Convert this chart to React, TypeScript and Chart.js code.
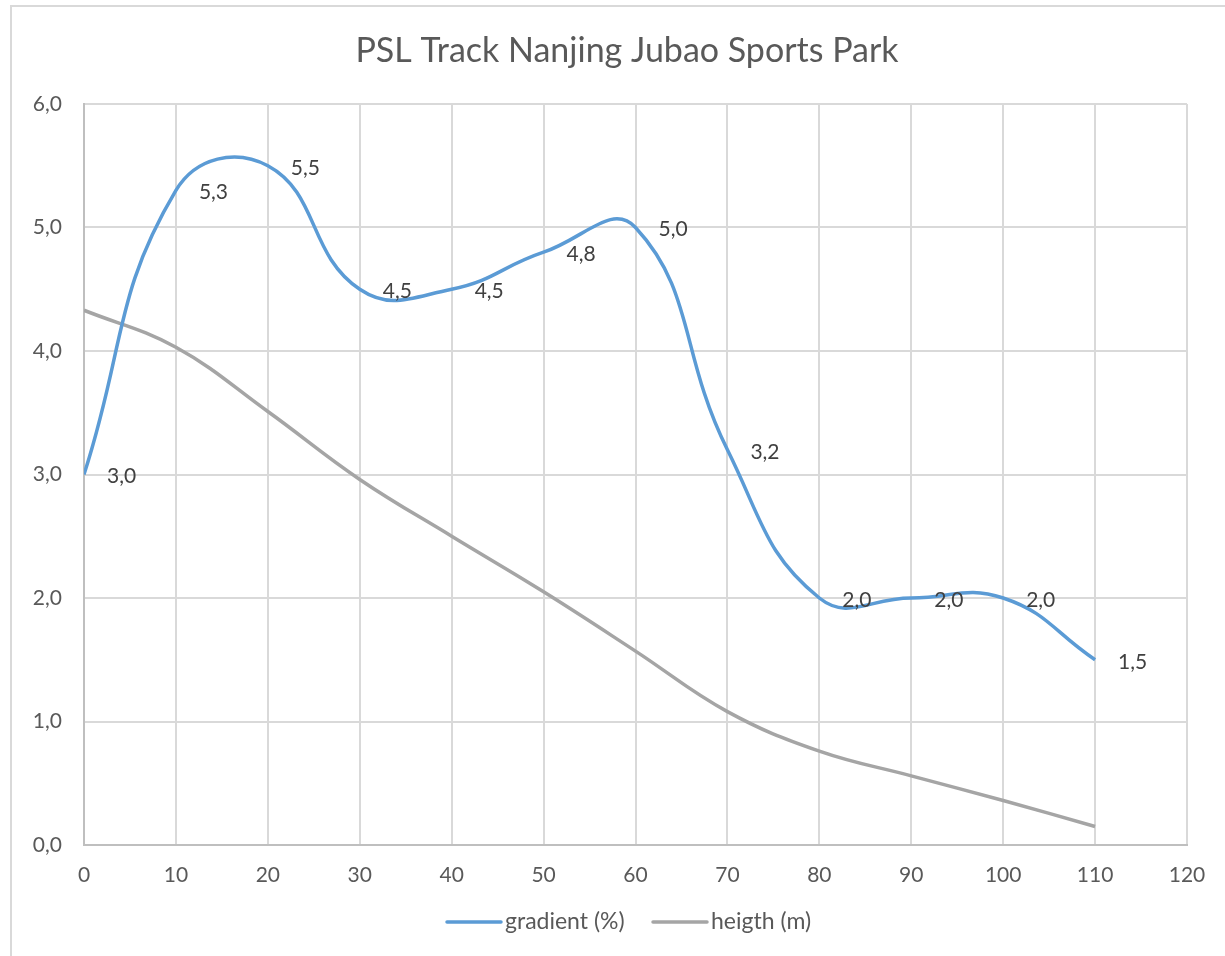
import React, { useEffect, useRef } from "react";
import { Chart, registerables } from "chart.js";

Chart.register(...registerables);

const chartTitle = "PSL Track Nanjing Jubao Sports Park";
const seriesNames = ["gradient (%)", "heigth (m)"];
const seriesColors = ["#5b9bd5", "#a5a5a5"];
const distance = [0, 10, 20, 30, 40, 50, 60, 70, 80, 90, 100, 110];
const gradientValues = [3.0, 5.3, 5.5, 4.5, 4.5, 4.8, 5.0, 3.2, 2.0, 2.0, 2.0, 1.5];
const heightValues = [4.33, 4.03, 3.51, 2.96, 2.5, 2.05, 1.57, 1.08, 0.76, 0.56, 0.36, 0.15];
const xRange = [0, 120];
const yRange = [0, 6];

const FONT = "Lato, 'Open Sans', sans-serif";
const fmt = (v: number) => v.toFixed(1).replace(".", ",");

const decorPlugin = {
  id: "decor",
  beforeDraw(chart: any) {
    const ctx = chart.ctx;
    ctx.save();
    ctx.strokeStyle = "#d9d9d9";
    ctx.lineWidth = 2;
    ctx.strokeRect(11, 6, 1400, 1200);
    ctx.restore();
  },
  afterDatasetsDraw(chart: any) {
    const ctx = chart.ctx;
    ctx.save();
    // data labels for gradient
    const meta = chart.getDatasetMeta(0);
    ctx.font = `21px ${FONT}`;
    ctx.fillStyle = "#404040";
    ctx.textAlign = "left";
    ctx.textBaseline = "middle";
    meta.data.forEach((pt: any, i: number) => {
      ctx.fillText(fmt(gradientValues[i]), pt.x + 23, pt.y + 2);
    });
    // title
    ctx.font = `34px ${FONT}`;
    ctx.fillStyle = "#595959";
    ctx.textAlign = "center";
    ctx.fillText(chartTitle, 627, 51);
    // legend
    ctx.font = `23px ${FONT}`;
    ctx.textAlign = "left";
    const items = [
      { x0: 447, x1: 501, tx: 505 },
      { x0: 653, x1: 707, tx: 711 },
    ];
    items.forEach((it, i) => {
      ctx.strokeStyle = seriesColors[i];
      ctx.lineWidth = 3.5;
      ctx.lineCap = "round";
      ctx.beginPath();
      ctx.moveTo(it.x0, 922);
      ctx.lineTo(it.x1, 922);
      ctx.stroke();
      ctx.fillStyle = "#595959";
      ctx.fillText(seriesNames[i], it.tx, 922);
    });
    ctx.restore();
  },
};

export default function App() {
  const ref = useRef<HTMLCanvasElement>(null);
  useEffect(() => {
    if (!ref.current) return;
    const chart = new Chart(ref.current, {
      type: "line",
      data: {
        datasets: [
          {
            label: seriesNames[0],
            data: distance.map((x, i) => ({ x, y: gradientValues[i] })),
            borderColor: seriesColors[0],
            borderWidth: 3.5,
            pointRadius: 0,
            tension: 0.45,
            fill: false,
          },
          {
            label: seriesNames[1],
            data: distance.map((x, i) => ({ x, y: heightValues[i] })),
            borderColor: seriesColors[1],
            borderWidth: 3.5,
            pointRadius: 0,
            tension: 0.4,
            fill: false,
          },
        ],
      },
      options: {
        responsive: false,
        animation: false,
        layout: { padding: { top: 104, right: 38, bottom: 71, left: 0 } },
        plugins: {
          legend: { display: false },
          title: { display: false },
          tooltip: { enabled: false },
        },
        scales: {
          x: {
            type: "linear",
            min: xRange[0],
            max: xRange[1],
            ticks: {
              stepSize: 10,
              color: "#595959",
              font: { family: FONT, size: 21 },
              padding: 18,
              maxRotation: 0,
            },
            grid: { color: "#d9d9d9", lineWidth: 2, drawTicks: false },
            border: { color: "#bfbfbf", width: 2 },
            afterFit: (s: any) => {
              s.height = 40;
            },
          },
          y: {
            min: yRange[0],
            max: yRange[1],
            ticks: {
              stepSize: 1,
              color: "#595959",
              font: { family: FONT, size: 21 },
              padding: 22,
              callback: (v: any) => fmt(Number(v)),
            },
            grid: { color: "#d9d9d9", lineWidth: 2, drawTicks: false },
            border: { color: "#bfbfbf", width: 2 },
            afterFit: (s: any) => {
              s.width = 84;
            },
          },
        },
      },
      plugins: [decorPlugin],
    });
    return () => chart.destroy();
  }, []);
  return (
    <div style={{ position: "absolute", left: 0, top: 0, width: 1225, height: 956, background: "#fff" }}>
      <canvas ref={ref} width={1225} height={956} style={{ display: "block" }} />
    </div>
  );
}
